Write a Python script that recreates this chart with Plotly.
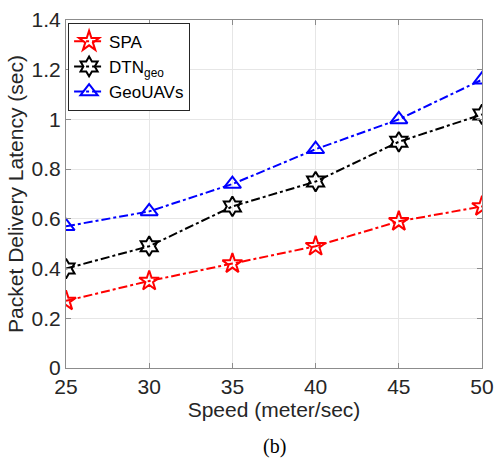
import plotly.graph_objects as go

speed = [25, 30, 35, 40, 45, 50]
spa = [0.27, 0.35, 0.42, 0.49, 0.59, 0.65]
dtn = [0.40, 0.49, 0.65, 0.75, 0.91, 1.02]
geo = [0.57, 0.63, 0.74, 0.88, 1.00, 1.16]

fig = go.Figure()
series = [
    ("SPA", spa, "#ff0000", "star-open"),
    ("DTN<sub>geo</sub>", dtn, "#000000", "hexagram-open"),
    ("GeoUAVs", geo, "#0000ff", "triangle-up-open"),
]
for name, ys, col, sym in series:
    fig.add_trace(go.Scatter(
        x=speed, y=ys, name=name, mode="lines+markers",
        line=dict(color=col, width=2, dash="dashdot"),
        marker=dict(symbol=sym, size=15, color=col, line=dict(width=2, color=col)),
    ))

FONT = "Liberation Sans, Arial"
axis_common = dict(
    showline=True, linecolor="#8c8c8c", linewidth=1, mirror="ticks",
    ticks="inside", ticklen=5, tickcolor="#8c8c8c",
    showgrid=True, gridcolor="#e6e6e6", gridwidth=1, zeroline=False,
    automargin=False,
    tickfont=dict(family=FONT, size=21, color="#262626"),
    title_font=dict(family=FONT, size=21, color="#262626"),
)
fig.update_xaxes(range=[25, 50], tickvals=speed, ticktext=[str(s) for s in speed],
                 title_text="Speed (meter/sec)", title_standoff=4, **axis_common)
fig.update_yaxes(range=[0, 1.4], tickvals=[0, 0.2, 0.4, 0.6, 0.8, 1.0, 1.2, 1.4],
                 ticktext=["0", "0.2", "0.4", "0.6", "0.8", "1", "1.2", "1.4"],
                 title_text="Packet Delivery Latency (sec)", title_standoff=2, **axis_common)

fig.update_layout(
    width=497, height=464,
    margin=dict(l=66, r=15, t=20, b=96),
    plot_bgcolor="white", paper_bgcolor="white",
    legend=dict(x=0.005, y=0.992, xanchor="left", yanchor="top",
                bgcolor="white", bordercolor="#262626", borderwidth=1,
                font=dict(family=FONT, size=17, color="#000000"),
                itemwidth=30, tracegroupgap=0),
    showlegend=True,
    annotations=[dict(text="(b)", x=0.5, y=-0.225, xref="paper", yref="paper",
                      showarrow=False, xanchor="center", yanchor="middle",
                      font=dict(family="Liberation Serif, Times New Roman", size=20, color="#000000"))],
)
fig.write_html("out.html")
